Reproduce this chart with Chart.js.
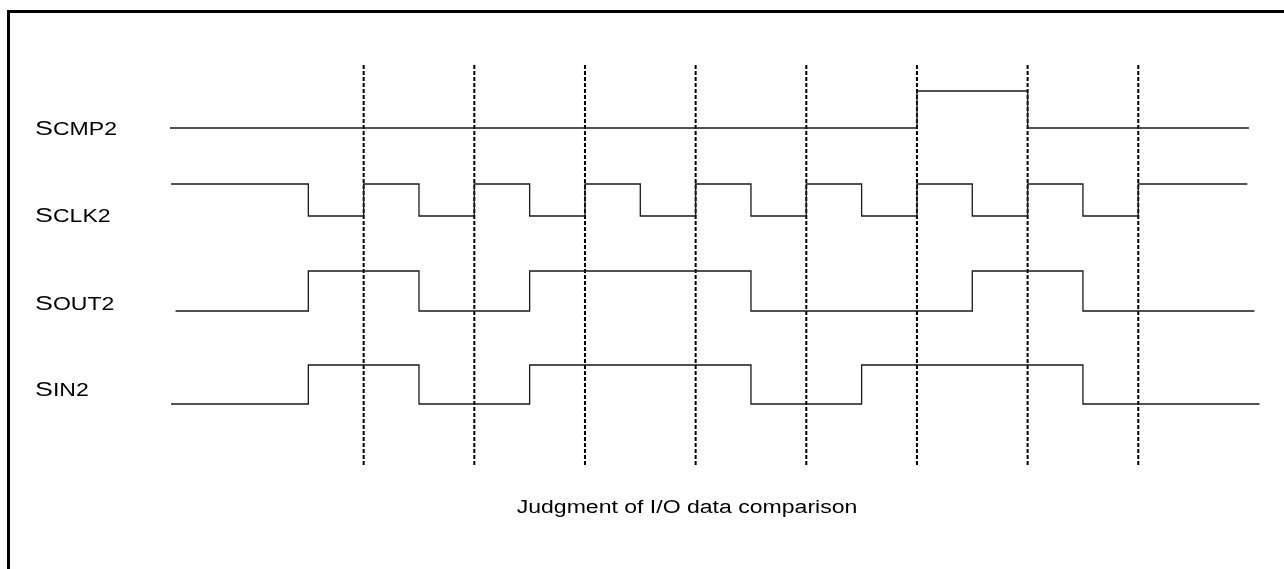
<!DOCTYPE html>
<html>
<head>
<meta charset="utf-8">
<script src="https://cdn.jsdelivr.net/npm/chart.js@4"></script>
<style>
  html, body { margin: 0; padding: 0; background: #fff; overflow: hidden; }
  #frame {
    position: absolute; left: 7px; top: 10px;
    width: 1320px; height: 620px;
    border: 3px solid #000;
  }
  #chart { position: absolute; left: 0; top: 0; }
</style>
</head>
<body>
<div id="frame"></div>
<canvas id="chart" width="1284" height="569"></canvas>
<script>
/* DATA (time in clock half-periods, level 0 = low, 1 = high) */
const signalNames = ['SCMP2', 'SCLK2', 'SOUT2', 'SIN2'];

const cmpEdges = [-2.5, 11, 13, 17.0];
const cmpLevels = [0, 1, 0];

const clkEdges = [-2.48, 0, 1, 2, 3, 4, 5, 6, 7, 8, 9, 10, 11, 12, 13, 14, 15, 16.97];
const clkLevels = [1, 0, 1, 0, 1, 0, 1, 0, 1, 0, 1, 0, 1, 0, 1, 0, 1];

const outEdges = [-2.4, 0, 2, 4, 8, 12, 14, 17.1];
const outLevels = [0, 1, 0, 1, 0, 1, 0];

const inEdges = [-2.48, 0, 2, 4, 8, 10, 14, 17.19];
const inLevels = [0, 1, 0, 1, 0, 1, 0];

const judgeTimes = [1, 3, 5, 7, 9, 11, 13, 15];

const caption = 'Judgment of I/O data comparison';

/* LAYOUT */
const lanes = [
  { base: 8.425, amp: 0.925, label: 8.4 },
  { base: 6.225, amp: 0.8, label: 6.225 },
  { base: 3.85, amp: 1.0, label: 4.03 },
  { base: 1.525, amp: 0.975, label: 1.88 },
];
const ink = '#1a1a1a';
const stretch = 1.28; // text in the drawing is wider than plain Arial

/* build step points */
function wave(edges, levels, lane) {
  const pts = levels.map((lv, i) => ({ x: edges[i], y: lane.base + lv * lane.amp }));
  const last = levels[levels.length - 1];
  pts.push({ x: edges[edges.length - 1], y: lane.base + last * lane.amp });
  return pts;
}

const waves = [
  wave(cmpEdges, cmpLevels, lanes[0]),
  wave(clkEdges, clkLevels, lanes[1]),
  wave(outEdges, outLevels, lanes[2]),
  wave(inEdges, inLevels, lanes[3]),
];

const datasets = waves.map((pts) => ({
  data: pts,
  borderColor: ink,
  borderWidth: 1.3,
  stepped: true,
  pointRadius: 0,
  clip: false,
}));

judgeTimes.forEach((t) => {
  datasets.push({
    data: [{ x: t, y: 0 }, { x: t, y: 10 }],
    borderColor: '#000',
    borderWidth: 2,
    borderDash: [4, 2],
    pointRadius: 0,
    clip: false,
  });
});

/* PLUGIN: signal names + caption */
const textPlugin = {
  id: 'timingText',
  afterDraw(chart) {
    const ctx = chart.ctx;
    const y = chart.scales.y;
    ctx.fillStyle = '#000';
    ctx.textBaseline = 'middle';
    signalNames.forEach((name, i) => {
      const py = y.getPixelForValue(lanes[i].label);
      ctx.save();
      ctx.translate(35, py);
      ctx.scale(stretch, 1);
      ctx.font = '21px "Liberation Sans", Arial, sans-serif';
      ctx.textAlign = 'left';
      ctx.fillText(name[0], 0, 0);
      const w = ctx.measureText(name[0]).width;
      ctx.font = '18px "Liberation Sans", Arial, sans-serif';
      ctx.fillText(name.slice(1), w, 1);
      ctx.restore();
    });
    ctx.save();
    ctx.translate(687, 508);
    ctx.scale(stretch, 1);
    ctx.font = '18px "Liberation Sans", Arial, sans-serif';
    ctx.textAlign = 'center';
    ctx.fillText(caption, 0, 0);
    ctx.restore();
  },
};

new Chart(document.getElementById('chart'), {
  type: 'line',
  data: { datasets },
  plugins: [textPlugin],
  options: {
    responsive: false,
    animation: false,
    layout: { padding: { left: 170, right: 24, top: 65, bottom: 104 } },
    scales: {
      x: { type: 'linear', min: -2.5, max: 17.2, display: false },
      y: { min: 0, max: 10, display: false },
    },
    plugins: { legend: { display: false }, tooltip: { enabled: false } },
  },
});
</script>
</body>
</html>
